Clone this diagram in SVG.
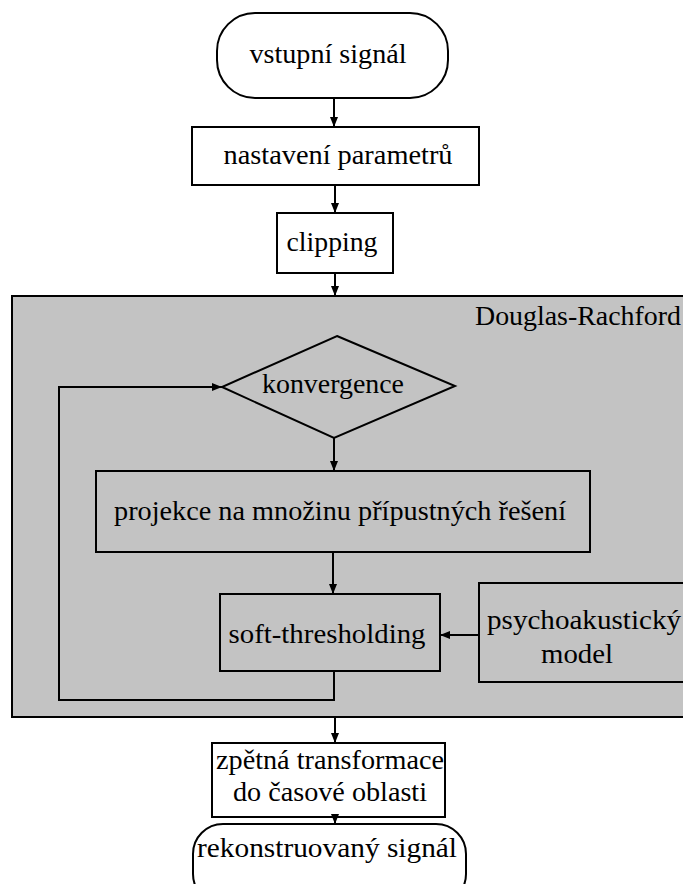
<svg xmlns="http://www.w3.org/2000/svg" width="683" height="884" viewBox="0 0 683 884">
<defs>
<style>
.n{fill:#fff;stroke:#000;stroke-width:2}
.g{fill:#c3c3c3;stroke:#000;stroke-width:2}
.t{font-family:'Liberation Serif','DejaVu Serif',serif;font-size:28px;fill:#000;text-anchor:middle}
.c{fill:none;stroke:#000;stroke-width:2}
</style>
<marker id="ah" viewBox="0 0 10 8" refX="10" refY="4" markerWidth="10" markerHeight="8" markerUnits="userSpaceOnUse" orient="auto">
<path d="M0,0 L10,4 L0,8 Z" fill="#000"/>
</marker>
</defs>
<rect width="683" height="884" fill="#fff"/>
<g id="douglas-rachford">
<rect class="g" x="12" y="296" width="690" height="421"/>
<text class="t" x="578" y="325" textLength="206" lengthAdjust="spacingAndGlyphs">Douglas-Rachford</text>
</g>
<g id="start">
<rect class="n" x="217" y="13" width="231" height="85" rx="38" ry="38"/>
<text class="t" x="328" y="63" textLength="157" lengthAdjust="spacingAndGlyphs">vstupní signál</text>
</g>
<g id="params">
<rect class="n" x="192" y="127" width="287" height="58"/>
<text class="t" x="338" y="164" textLength="229" lengthAdjust="spacingAndGlyphs">nastavení parametrů</text>
</g>
<g id="clipping">
<rect class="n" x="277" y="213" width="116" height="60"/>
<text class="t" x="332" y="251" textLength="91" lengthAdjust="spacingAndGlyphs">clipping</text>
</g>
<g id="convergence">
<polygon class="g" points="337,336 455,386 334,438 222,387"/>
<text class="t" x="333" y="393" textLength="142" lengthAdjust="spacingAndGlyphs">konvergence</text>
</g>
<g id="projection">
<rect class="g" x="96" y="471" width="494" height="81"/>
<text class="t" x="340" y="520" textLength="452" lengthAdjust="spacingAndGlyphs">projekce na množinu přípustných řešení</text>
</g>
<g id="soft">
<rect class="g" x="220" y="594" width="220" height="77"/>
<text class="t" x="327" y="643" textLength="197" lengthAdjust="spacingAndGlyphs">soft-thresholding</text>
</g>
<g id="psycho">
<rect class="g" x="479" y="583" width="220" height="99"/>
<text class="t" x="584" y="629" textLength="194" lengthAdjust="spacingAndGlyphs">psychoakustický</text>
<text class="t" x="577" y="663" textLength="72" lengthAdjust="spacingAndGlyphs">model</text>
</g>
<g id="inverse">
<rect class="n" x="212" y="743" width="233" height="74"/>
<text class="t" x="330" y="769" textLength="228" lengthAdjust="spacingAndGlyphs">zpětná transformace</text>
<text class="t" x="330" y="801" textLength="194" lengthAdjust="spacingAndGlyphs">do časové oblasti</text>
</g>
<g id="end">
<rect class="n" x="193" y="824" width="273" height="80" rx="30" ry="30"/>
<text class="t" x="327" y="857" textLength="260" lengthAdjust="spacingAndGlyphs">rekonstruovaný signál</text>
</g>
<g id="connectors">
<line class="c" x1="334" y1="98" x2="334" y2="127" marker-end="url(#ah)"/>
<line class="c" x1="335" y1="185" x2="335" y2="213" marker-end="url(#ah)"/>
<line class="c" x1="335" y1="273" x2="335" y2="296" marker-end="url(#ah)"/>
<line class="c" x1="334" y1="438" x2="334" y2="471" marker-end="url(#ah)"/>
<line class="c" x1="333" y1="552" x2="333" y2="594" marker-end="url(#ah)"/>
<polyline class="c" points="334,671 334,700 59,700 59,387 222,387" marker-end="url(#ah)"/>
<line class="c" x1="479" y1="635" x2="440" y2="635" marker-end="url(#ah)"/>
<line class="c" x1="335" y1="717" x2="335" y2="743" marker-end="url(#ah)"/>
<line class="c" x1="335" y1="817" x2="335" y2="824" marker-end="url(#ah)"/>
</g>
</svg>
